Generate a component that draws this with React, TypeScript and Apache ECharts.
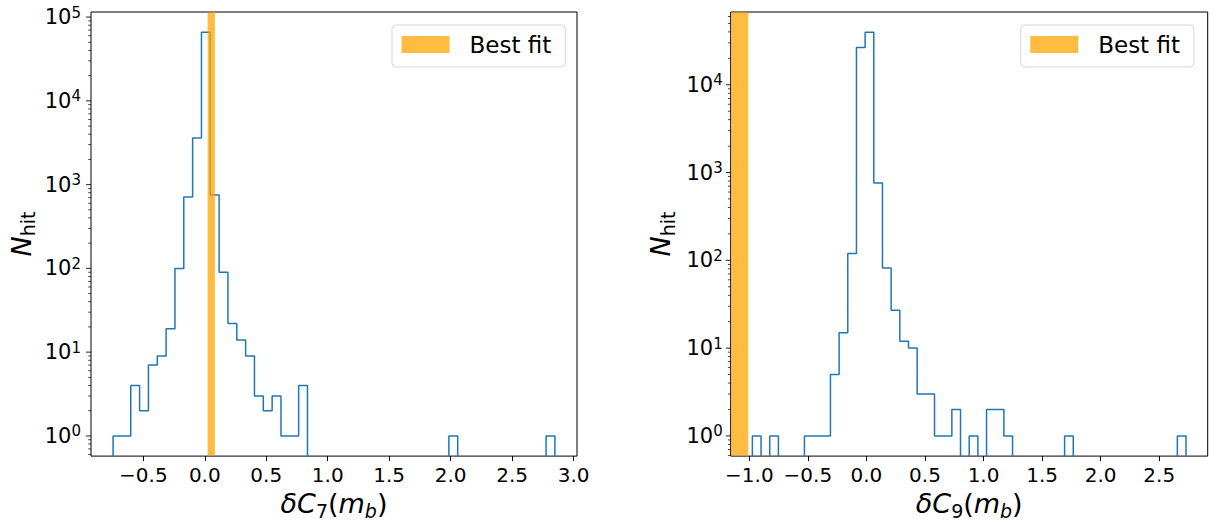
import React, { useEffect, useRef } from 'react';
import * as echarts from 'echarts';

const FONT = 'DejaVu Sans';
const HIST_COLOR = '#1f77b4';
const BAND_COLOR = 'rgba(255,165,0,0.75)';

// ---- data: left panel (delta C7) ----
const C7_RANGE = [-0.746, 2.848]; // first / last bin edge, 50 equal bins
const C7_COUNTS = [
  1, 1, 4, 2, 7, 9, 19, 100, 710, 3600, 66000, 750, 90, 22, 14, 9, 3, 2, 3, 1, 1, 4,
  0, 0, 0, 0, 0, 0, 0, 0, 0, 0, 0, 0, 0, 0, 0, 0,
  1,
  0, 0, 0, 0, 0, 0, 0, 0, 0, 0,
  1,
];
const C7_BAND = [0.023, 0.082];
const C7_XTICKS = [-0.5, 0, 0.5, 1, 1.5, 2, 2.5, 3];

// ---- data: right panel (delta C9) ----
const C9_RANGE = [-0.974, 2.729];
const C9_COUNTS = [
  1, 0, 1, 0, 0, 0, 1, 1, 1, 5, 15, 120, 26500, 39700, 760, 82, 27, 12, 10, 3, 3, 1, 1, 2, 0, 1, 0, 2, 2, 1,
  0, 0, 0, 0, 0, 0,
  1,
  0, 0, 0, 0, 0, 0, 0, 0, 0, 0, 0, 0,
  1,
];
const C9_BAND = [-1.17, -1.009];
const C9_XTICKS = [-1, -0.5, 0, 0.5, 1, 1.5, 2, 2.5];

// ---- log-axis tick values ----
const Y_DECADES = [0.1, 1, 10, 100, 1000, 10000, 100000];
const Y_MAJOR = [1, 10, 100, 1000, 10000, 100000];
const MINOR_MULT = [2, 3, 4, 5, 6, 7, 8, 9];

const PANELS = [
  {
    range: C7_RANGE, counts: C7_COUNTS, band: C7_BAND, xticks: C7_XTICKS, sub: '7',
    grid: { left: 91, top: 12, width: 486, height: 449 },
    legend: { left: 392, top: 25 },
    yLabelMargin: 10,
  },
  {
    range: C9_RANGE, counts: C9_COUNTS, band: C9_BAND, xticks: C9_XTICKS, sub: '9',
    grid: { left: 730.7, top: 12, width: 477, height: 449 },
    legend: { left: 1020.7, top: 25 },
    yLabelMargin: 8,
  },
];

function xLimits(range: number[]) {
  const m = 0.05 * (range[1] - range[0]);
  return [range[0] - m, range[1] + m];
}
function yLimits(counts: number[]) {
  const L = Math.log10(Math.max(...counts));
  return [Math.pow(10, -0.05 * L), Math.pow(10, 1.05 * L)];
}
function histPoints(range: number[], counts: number[], floor: number) {
  const w = (range[1] - range[0]) / counts.length;
  const pts: number[][] = [[range[0], floor]];
  counts.forEach((c, i) => {
    const y = c > 0 ? c : floor;
    pts.push([range[0] + i * w, y], [range[0] + (i + 1) * w, y]);
  });
  pts.push([range[1], floor]);
  return pts;
}

const txt = (size: number, extra: any = {}) => ({ fontFamily: FONT, fontSize: size, color: '#000', ...extra });

function buildOption() {
  const grid: any[] = [];
  const xAxis: any[] = [];
  const yAxis: any[] = [];
  const series: any[] = [];
  const legend: any[] = [];

  PANELS.forEach((p, k) => {
    const [xmin, xmax] = xLimits(p.range);
    const [ymin, ymax] = yLimits(p.counts);
    grid.push({ ...p.grid, show: true, borderColor: '#000', borderWidth: 1, backgroundColor: 'transparent' });

    xAxis.push({
      type: 'value', gridIndex: k, min: xmin, max: xmax,
      axisLine: { show: false },
      splitLine: { show: false },
      axisTick: { show: true, customValues: p.xticks, length: 5, lineStyle: { color: '#000', width: 1 } },
      axisLabel: {
        customValues: p.xticks, margin: 9, ...txt(20),
        formatter: (v: number) => (v < 0 ? '\u2212' : '') + Math.abs(v).toFixed(1),
      },
      name: `{i|δC}{s|${p.sub}}{n|(}{i|m}{si|b}{n|)}`,
      nameLocation: 'middle', nameGap: 43,
      nameTextStyle: {
        ...txt(27), align: 'center', verticalAlign: 'middle',
        rich: {
          i: txt(27, { fontStyle: 'italic' }),
          n: txt(27),
          s: txt(19, { padding: [14, 0, 0, 0] }),
          si: txt(19, { fontStyle: 'italic', padding: [14, 0, 0, 0] }),
        },
      },
    });

    yAxis.push({
      type: 'log', logBase: 10, gridIndex: k, min: ymin, max: ymax,
      axisLine: { show: false },
      axisTick: { show: false },
      minorTick: { show: false },
      splitLine: { show: false },
      axisLabel: {
        showMinLabel: false, showMaxLabel: false, margin: p.yLabelMargin, ...txt(21),
        formatter: (v: number) => `{b|10}{p|${Math.round(Math.log10(v))}}`,
        rich: { b: txt(21), p: txt(15, { padding: [0, 0, 9, 0] }) },
      },
      name: '{i|N}{s|hit}',
      nameLocation: 'middle', nameRotate: 90, nameGap: 70,
      nameTextStyle: {
        ...txt(27), align: 'center', verticalAlign: 'middle',
        rich: { i: txt(27, { fontStyle: 'italic' }), s: txt(19, { padding: [14, 0, 0, 0] }) },
      },
    });

    series.push({
      type: 'line', xAxisIndex: k, yAxisIndex: k, name: 'hist',
      data: histPoints(p.range, p.counts, ymin / 3),
      symbol: 'none', showSymbol: false, silent: true, z: 2,
      lineStyle: { color: HIST_COLOR, width: 1.5 },
    });

    series.push({
      type: 'custom', name: 'Best fit', xAxisIndex: k, yAxisIndex: k, z: 3, silent: true,
      itemStyle: { color: BAND_COLOR },
      data: [p.band],
      renderItem: (params: any, api: any) => {
        const cs = params.coordSys;
        const a = api.coord([api.value(0), ymin])[0];
        const b = api.coord([api.value(1), ymin])[0];
        const left = Math.max(Math.min(a, b), cs.x + 0.5);
        const right = Math.min(Math.max(a, b), cs.x + cs.width - 0.5);
        return {
          type: 'rect',
          shape: { x: left, y: cs.y + 0.5, width: Math.max(0, right - left), height: cs.height - 1 },
          style: { fill: BAND_COLOR },
        };
      },
    });

    const major = Y_MAJOR.filter((v) => v >= ymin && v <= ymax).map((v) => [xmin, v]);
    const minor: number[][] = [];
    Y_DECADES.forEach((d) => MINOR_MULT.forEach((m) => {
      const v = d * m;
      if (v >= ymin && v <= ymax) minor.push([xmin, v]);
    }));
    series.push({
      type: 'scatter', name: 'ymajor', xAxisIndex: k, yAxisIndex: k, data: major, silent: true, clip: false, z: 4,
      symbol: 'rect', symbolSize: [4.9, 1.1], symbolOffset: [-2.45, 0], itemStyle: { color: '#000' },
    });
    series.push({
      type: 'scatter', name: 'yminor', xAxisIndex: k, yAxisIndex: k, data: minor, silent: true, clip: false, z: 4,
      symbol: 'rect', symbolSize: [2.8, 0.9], symbolOffset: [-1.4, 0], itemStyle: { color: '#000' },
    });

    legend.push({
      ...p.legend,
      orient: 'vertical',
      selectedMode: false,
      data: [{ name: 'Best fit', icon: 'rect', itemStyle: { color: BAND_COLOR } }],
      itemWidth: 48, itemHeight: 17,
      padding: [8, 14, 11, 9.5],
      backgroundColor: 'rgba(255,255,255,0.8)',
      borderColor: 'rgba(204,204,204,0.8)', borderWidth: 1, borderRadius: 4,
      formatter: (name: string) => `{t|${name}}`,
      textStyle: { ...txt(23), rich: { t: txt(23, { padding: [0, 0, 0, 15] }) } },
    });
  });

  return { animation: false, backgroundColor: '#fff', grid, xAxis, yAxis, series, legend };
}

export default function App() {
  const ref = useRef<HTMLDivElement>(null);
  useEffect(() => {
    const chart = echarts.init(ref.current!, undefined, { renderer: 'svg' });
    chart.setOption(buildOption() as any);
    return () => chart.dispose();
  }, []);
  return <div ref={ref} style={{ position: 'absolute', left: 0, top: 0, width: 1214, height: 525, background: '#fff' }} />;
}
